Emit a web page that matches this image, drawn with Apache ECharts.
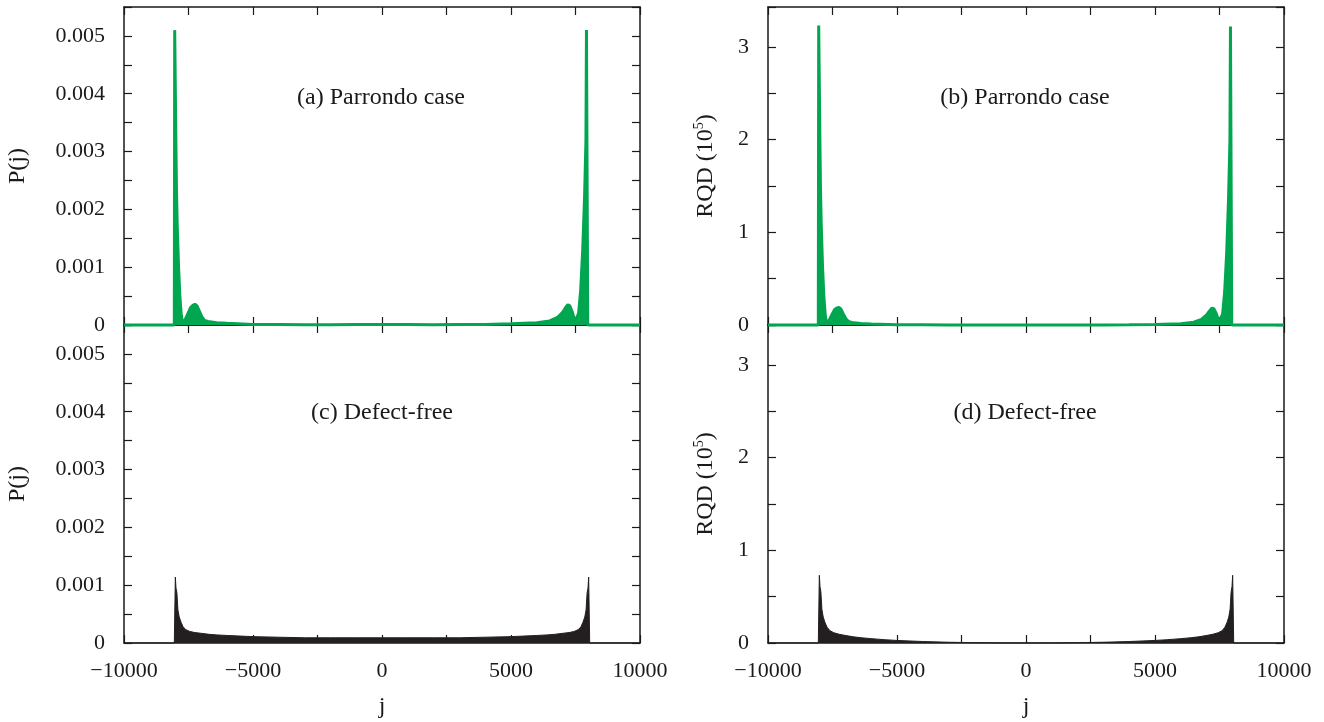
<!DOCTYPE html>
<html>
<head>
<meta charset="utf-8">
<script src="https://cdn.jsdelivr.net/npm/echarts@6/dist/echarts.min.js"></script>
<style>html,body{margin:0;padding:0;background:#fff;}#c{width:1324px;height:722px;}</style>
</head>
<body>
<div id="c"></div>
<script>
// ---- data (envelope of the filled distributions) ----
const jParrondo = [-10000, -8050, -8035, -8005, -7990, -7965, -7935, -7885, -7835, -7785, -7735, -7690, -7620, -7520, -7420, -7330, -7250, -7170, -7080, -6980, -6880, -6750, -6400, -6000, -5000, -4000, -3000, -2000, -1000, 0, 1000, 2000, 3000, 4000, 5000, 6000, 6500, 6800, 7000, 7100, 7200, 7280, 7380, 7480, 7550, 7620, 7700, 7780, 7850, 7905, 7925, 7960, 7975, 10000];
const pParrondo = [0, 0, 0.0051, 0.0051, 0.0032, 0.0023, 0.0017, 0.0010, 0.0005, 0.0002, 0.00003, 0.00003, 0.0001, 0.0002, 0.0003, 0.00034, 0.00036, 0.00033, 0.00024, 0.00014, 0.00008, 0.00006, 0.00004, 0.00003, 0.00001, 0.00001, 0.000005, 0.000005, 0.00001, 0.00001, 0.00001, 0.000005, 0.00001, 0.00001, 0.00002, 0.00004, 0.00007, 0.00013, 0.00022, 0.00029, 0.00035, 0.00033, 0.00022, 0.00006, 0.00004, 0.0002, 0.0006, 0.0013, 0.0022, 0.0032, 0.0051, 0.0051, 0, 0];
const rqdParrondo = [0, 0, 3.23, 3.23, 2.02, 1.45, 1.07, 0.62, 0.31, 0.12, 0.018, 0.018, 0.058, 0.113, 0.166, 0.183, 0.189, 0.17, 0.12, 0.068, 0.038, 0.027, 0.016, 0.011, 0.0025, 0.0016, 0.0005, 0.0002, 0.0001, 0, 0.0001, 0.0002, 0.0009, 0.0016, 0.005, 0.014, 0.03, 0.06, 0.108, 0.146, 0.181, 0.175, 0.12, 0.034, 0.023, 0.116, 0.356, 0.79, 1.36, 2.0, 3.22, 3.22, 0, 0];

const jFree = [-10000, -8050, -8010, -7985, -7950, -7910, -7860, -7790, -7710, -7600, -7450, -7250, -7050, -6700, -6400, -6000, -5500, -5000, -4000, -3000, -2000, -1000, 0, 1000, 2000, 3000, 4000, 5000, 5500, 6000, 6400, 6700, 7050, 7250, 7450, 7600, 7710, 7790, 7860, 7910, 7950, 7985, 8010, 8050, 10000];
const pFree = [0, 0, 0.00114, 0.00095, 0.00087, 0.00057, 0.00045, 0.00036, 0.00028, 0.00023, 0.0002, 0.00018, 0.00017, 0.00015, 0.00014, 0.00013, 0.00012, 0.00011, 0.0001, 0.00009, 0.00009, 0.00009, 0.00009, 0.00009, 0.00009, 0.00009, 0.0001, 0.00011, 0.00012, 0.00013, 0.00014, 0.00015, 0.00017, 0.00018, 0.0002, 0.00023, 0.00028, 0.00036, 0.00045, 0.00057, 0.00087, 0.00095, 0.00114, 0, 0];
const rqdFree = [0, 0, 0.73, 0.61, 0.55, 0.36, 0.28, 0.22, 0.17, 0.133, 0.111, 0.095, 0.084, 0.067, 0.057, 0.047, 0.036, 0.0275, 0.016, 0.0081, 0.0034, 0.0008, 0, 0.0008, 0.0034, 0.0081, 0.016, 0.0275, 0.036, 0.047, 0.057, 0.067, 0.084, 0.095, 0.111, 0.133, 0.17, 0.22, 0.28, 0.36, 0.55, 0.61, 0.73, 0, 0];

const panelLabels = ['(a) Parrondo case', '(b) Parrondo case', '(c) Defect-free', '(d) Defect-free'];
const xRange = [-10000, 10000];
const pRange = [0, 0.0055];
const rqdRange = [0, 3.43];

// ---- layout / style ----
const FONT = 'Liberation Serif';
const INK = '#1a1a1a';
const GREEN = '#00a650';
const DARK = '#231f20';

const grids = [
  {left: 124, top: 7, width: 516, height: 318},
  {left: 768, top: 7, width: 516, height: 318},
  {left: 124, top: 325, width: 516, height: 318},
  {left: 768, top: 325, width: 516, height: 318}
];

function zip(a, b) { return a.map((v, i) => [v, b[i]]); }

const axisLineStyle = {show: true, onZero: false, lineStyle: {color: INK, width: 1.5}};
const tickStyle = {show: true, inside: true, length: 8, lineStyle: {color: INK, width: 1.2}};

const xAxes = [], yAxes = [];
grids.forEach((g, i) => {
  const bottomRow = i >= 2;
  xAxes.push({
    type: 'value', gridIndex: i, position: 'bottom', min: xRange[0], max: xRange[1], interval: 2500,
    axisLine: axisLineStyle, axisTick: tickStyle, splitLine: {show: false},
    axisLabel: {show: bottomRow, margin: 17, color: INK, fontFamily: FONT, fontSize: 22,
      formatter: v => (Math.abs(v % 5000) < 1e-6 ? (v < 0 ? '\u2212' + Math.abs(v) : String(v)) : '')},
    name: bottomRow ? 'j' : '', nameLocation: 'middle', nameGap: 52,
    nameTextStyle: {color: INK, fontFamily: FONT, fontSize: 24}
  });
  xAxes.push({
    type: 'value', gridIndex: i, position: 'top', min: xRange[0], max: xRange[1], interval: 2500,
    axisLine: axisLineStyle, axisTick: tickStyle, splitLine: {show: false}, axisLabel: {show: false}
  });
  const isP = (i % 2 === 0);
  const rng = isP ? pRange : rqdRange;
  const itv = isP ? 0.0005 : 0.5;
  const major = isP ? 0.001 : 1;
  yAxes.push({
    type: 'value', gridIndex: i, position: 'left', min: rng[0], max: rng[1], interval: itv,
    axisLine: axisLineStyle, axisTick: tickStyle, splitLine: {show: false},
    axisLabel: {show: true, margin: 19, color: INK, fontFamily: FONT, fontSize: 22,
      formatter: v => {
        const r = v / major;
        if (Math.abs(r - Math.round(r)) > 1e-6) return '';
        if (Math.abs(v) < 1e-12) return '0';
        return isP ? v.toFixed(3) : String(Math.round(r));
      }},
    name: isP ? 'P(j)' : 'RQD (10{s|5})', nameLocation: 'middle', nameRotate: 90,
    nameGap: isP ? 92 : 48,
    nameTextStyle: {color: INK, fontFamily: FONT, fontSize: 24, lineHeight: 28,
      rich: {s: {fontSize: 14, fontFamily: FONT, color: INK, verticalAlign: 'top', lineHeight: 28}}}
  });
  yAxes.push({
    type: 'value', gridIndex: i, position: 'right', min: rng[0], max: rng[1], interval: itv,
    axisLine: axisLineStyle, axisTick: tickStyle, splitLine: {show: false}, axisLabel: {show: false}
  });
});

function areaSeries(idx, data, color, lw) {
  return {
    type: 'line', xAxisIndex: 2 * idx, yAxisIndex: 2 * idx, data: data,
    symbol: 'none', showSymbol: false, clip: false, animation: false,
    lineStyle: {color: color, width: lw, join: 'bevel'},
    areaStyle: {color: color, opacity: 1}, z: 3
  };
}

const series = [
  areaSeries(0, zip(jParrondo, pParrondo), GREEN, 3),
  areaSeries(1, zip(jParrondo, rqdParrondo), GREEN, 3),
  areaSeries(2, zip(jFree, pFree), DARK, 1),
  areaSeries(3, zip(jFree, rqdFree), DARK, 1)
];

const labelPos = [[381, 98], [1025, 98], [382, 413], [1025, 413]];
const graphic = panelLabels.map((t, i) => ({
  type: 'text', x: labelPos[i][0], y: labelPos[i][1], z: 10,
  style: {text: t, fill: INK, font: '24px "' + FONT + '"', textAlign: 'center', textVerticalAlign: 'middle'}
}));

const chart = echarts.init(document.getElementById('c'), null, {renderer: 'canvas'});
chart.setOption({
  animation: false,
  backgroundColor: '#ffffff',
  grid: grids,
  xAxis: xAxes,
  yAxis: yAxes,
  series: series,
  graphic: graphic
});
</script>
</body>
</html>
